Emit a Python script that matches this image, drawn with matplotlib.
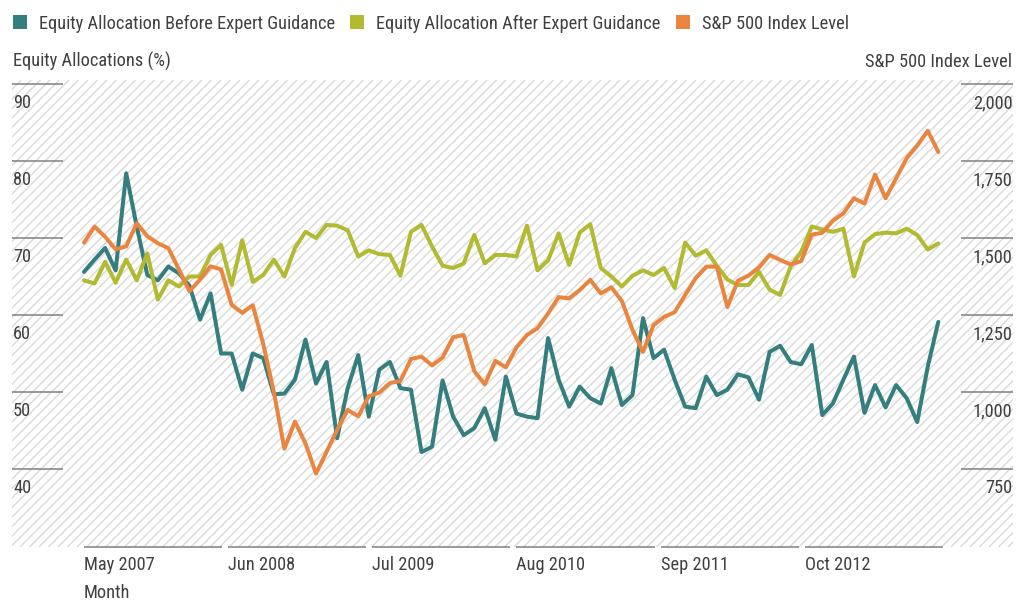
import numpy as np
import matplotlib
matplotlib.use("Agg")
import matplotlib.pyplot as plt
from matplotlib import font_manager
from matplotlib.patches import Rectangle
import matplotlib.transforms as mtransforms

# ---------------- data ----------------
tick_labels = ["May 2007", "Jun 2008", "Jul 2009", "Aug 2010", "Sep 2011", "Oct 2012"]

before = [65.6, 67.2, 68.7, 65.8, 78.4, 71.5, 65.2, 64.5, 66.3, 65.4,
          63.8, 59.4, 62.8, 55.0, 55.0, 50.3, 55.0, 54.4, 49.7, 49.8,
          51.6, 56.8, 51.1, 53.9, 44.0, 50.5, 54.8, 46.8, 52.9, 53.9,
          50.5, 50.3, 42.2, 42.9, 51.5, 46.8, 44.4, 45.3, 47.9, 43.8,
          52.0, 47.2, 46.8, 46.6, 57.0, 51.6, 48.1, 50.7, 49.2, 48.5,
          53.1, 48.3, 49.6, 59.6, 54.4, 55.5, 51.6, 48.1, 47.9, 52.0,
          49.6, 50.3, 52.3, 51.9, 49.0, 55.2, 56.0, 53.9, 53.6, 56.1,
          47.0, 48.5, 51.6, 54.6, 47.3, 50.9, 48.0, 50.9, 49.2, 46.1,
          53.3, 59.1]

after = [64.5, 64.1, 66.9, 64.2, 67.2, 64.5, 68.0, 62.0, 64.5, 63.7,
         65.0, 65.0, 67.8, 69.1, 63.9, 69.7, 64.3, 65.2, 67.2, 65.0,
         68.7, 70.8, 70.0, 71.7, 71.6, 71.0, 67.6, 68.4, 67.9, 67.8,
         65.1, 70.8, 71.7, 68.9, 66.4, 66.1, 66.7, 70.4, 66.7, 67.8,
         67.8, 67.6, 71.6, 65.8, 67.1, 70.6, 66.5, 70.7, 71.8, 66.1,
         65.0, 63.7, 65.1, 65.8, 65.2, 66.1, 63.5, 69.4, 67.7, 68.4,
         66.4, 64.6, 63.9, 63.9, 65.6, 63.3, 62.6, 66.3, 68.2, 71.5,
         71.1, 70.8, 71.2, 65.0, 69.4, 70.5, 70.7, 70.6, 71.2, 70.4,
         68.5, 69.3]

sp500 = [1485, 1537, 1504, 1463, 1473, 1548, 1506, 1483, 1467, 1398,
         1327, 1365, 1408, 1398, 1283, 1257, 1282, 1155, 1000, 816,
         904, 833, 735, 806, 877, 942, 921, 986, 998, 1029,
         1036, 1107, 1115, 1086, 1112, 1178, 1185, 1068, 1025, 1101,
         1080, 1145, 1185, 1207, 1255, 1308, 1304, 1331, 1364, 1320,
         1340, 1295, 1202, 1130, 1217, 1244, 1259, 1315, 1370, 1407,
         1407, 1276, 1361, 1378, 1404, 1445, 1429, 1414, 1425, 1511,
         1517, 1556, 1580, 1629, 1612, 1706, 1629, 1694, 1759, 1800,
         1848, 1779]

left_ticks = [40, 50, 60, 70, 80, 90]
right_ticks = [750, 1000, 1250, 1500, 1750, 2000]

names = ["Equity Allocation Before Expert Guidance",
         "Equity Allocation After Expert Guidance",
         "S&P 500 Index Level"]
colors = ["#357e7f", "#b1ba31", "#ea8540"]

# ---------------- style ----------------
avail = {f.name for f in font_manager.fontManager.ttflist}
font = "DejaVu Sans"
for fam in ["Liberation Sans Narrow", "Roboto Condensed", "DejaVu Sans Condensed", "Roboto"]:
    if fam in avail:
        font = fam
        break
plt.rcParams["font.family"] = [font, "DejaVu Sans"]
FS = 13.2
TXT = "#404040"
GRID = "#808080"

W, H = 1026, 600
fig = plt.figure(figsize=(W / 100, H / 100), dpi=100)

# plot region in pixels
L, R, T, B = 12, 1013, 80, 547
X0, DX = 84.0, 10.547          # pixel of first point, pixels per point
PX_PER_UNIT = 7.7              # left axis pixels per 1 %
Y90 = 84.0                     # pixel row of value 90

rect = [L / W, 1 - B / H, (R - L) / W, (B - T) / H]

# hatched background
bg = fig.add_axes(rect, zorder=0)
bg.set_xlim(0, R - L)
bg.set_ylim(0, B - T)
bg.axis("off")
step = 9.5
hh = B - T
for c in np.arange(-hh, R - L + step, step):
    bg.plot([c, c + hh], [0, hh], color="#d9d9d9", lw=1.0, solid_capstyle="butt")

ax = fig.add_axes(rect, zorder=1)
ax.patch.set_visible(False)
n = len(before)
x = np.arange(n)
ax.set_xlim((L - X0) / DX, (R - X0) / DX)
ax.set_ylim(90 - (B - Y90) / PX_PER_UNIT, 90 + (Y90 - T) / PX_PER_UNIT)
y_lo, y_hi = ax.get_ylim()

ax2 = ax.twinx()
ax2.set_ylim(2000 + (y_lo - 90) * 25, 2000 + (y_hi - 90) * 25)

for a in (ax, ax2):
    for s in a.spines.values():
        s.set_visible(False)
    a.set_xticks([])
    a.set_yticks([])

lw = 2.9
ax.plot(x, before, color=colors[0], lw=lw, solid_joinstyle="round",
        solid_capstyle="round", zorder=3)
ax.plot(x, after, color=colors[1], lw=lw, solid_joinstyle="round",
        solid_capstyle="round", zorder=3)
ax2.plot(x, sp500, color=colors[2], lw=lw, solid_joinstyle="round",
         solid_capstyle="round", zorder=3)

# short gridlines at the margins with labels beneath
ytr = ax.get_yaxis_transform()
down = mtransforms.ScaledTranslation(0, -24.3 / 100, fig.dpi_scale_trans)
gl_left = (63 - L) / (R - L)
gl_right = (961 - L) / (R - L)
for v in left_ticks:
    ax.plot([0, gl_left], [v, v], transform=ytr, color=GRID, lw=1.1,
            solid_capstyle="butt", clip_on=False)
    ax.text(0.001, v, str(v), transform=ytr + down, ha="left", va="baseline",
            fontsize=FS, color=TXT)
ytr2 = ax2.get_yaxis_transform()
for v in right_ticks:
    ax2.plot([gl_right, 1], [v, v], transform=ytr2, color=GRID, lw=1.1,
             solid_capstyle="butt", clip_on=False)
    ax2.text(0.9993, v, f"{v:,}", transform=ytr2 + down, ha="right",
             va="baseline", fontsize=FS, color=TXT)

# segmented x axis with labels
xtr = ax.get_xaxis_transform()
seg = n / len(tick_labels)
gap = 6.0 / DX
lab_down = mtransforms.ScaledTranslation(0, -23 / 100, fig.dpi_scale_trans)
for k, lab in enumerate(tick_labels):
    p = k * seg
    ax.plot([p, p + seg - gap], [0, 0], transform=xtr, color=GRID, lw=1.1,
            solid_capstyle="butt", clip_on=False)
    ax.text(p, 0, lab, transform=xtr + lab_down, ha="left", va="baseline",
            fontsize=FS, color=TXT)
month_down = mtransforms.ScaledTranslation(0, -51 / 100, fig.dpi_scale_trans)
ax.text(0, 0, "Month", transform=xtr + month_down, ha="left", va="baseline",
        fontsize=FS, color=TXT)

# axis titles
fig.text(13 / W, 1 - 67 / H, "Equity Allocations (%)", ha="left", va="baseline",
         fontsize=FS, color=TXT)
fig.text(1012 / W, 1 - 67 / H, "S&P 500 Index Level", ha="right", va="baseline",
         fontsize=FS, color=TXT)

# legend
fig.canvas.draw()
rend = fig.canvas.get_renderer()
lx = 13.0
for name, col in zip(names, colors):
    fig.patches.append(Rectangle((lx / W, 1 - 29 / H), 14 / W, 14 / H,
                                 transform=fig.transFigure, color=col, lw=0))
    t = fig.text((lx + 26) / W, 1 - 29.3 / H, name, ha="left", va="baseline",
                 fontsize=FS, color=TXT)
    bb = t.get_window_extent(renderer=rend)
    lx = bb.x1 + 15

fig.savefig("out.png", dpi=100)
